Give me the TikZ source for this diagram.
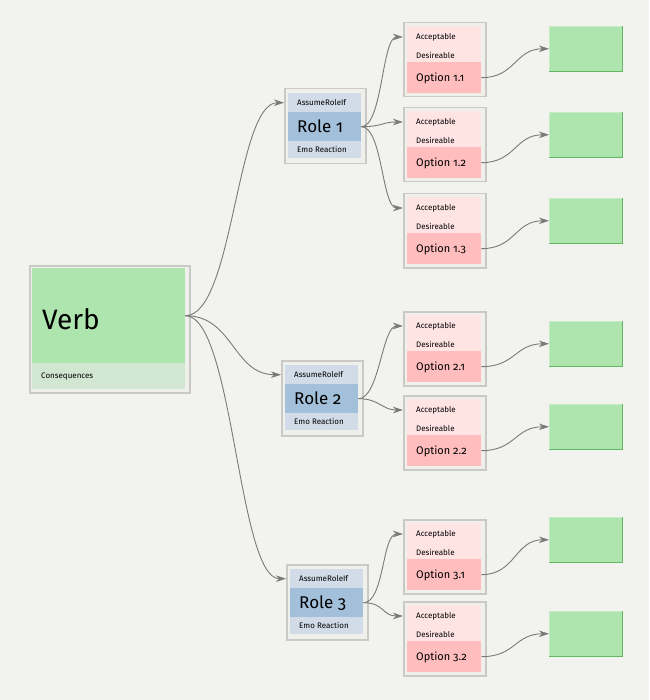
\documentclass[tikz,border=0pt]{standalone}
\usepackage{fontspec}
\setmainfont[Numbers=OldStyle]{Fira Sans}
\usetikzlibrary{arrows.meta}
\definecolor{bgcol}{HTML}{F2F2EE}
\definecolor{framegray}{HTML}{C9C9C5}
\definecolor{framefill}{HTML}{EFEFEB}
\definecolor{verbgreen}{HTML}{AEE4AE}
\definecolor{verbpale}{HTML}{D2E7D2}
\definecolor{rolepale}{HTML}{D1DCE8}
\definecolor{roledark}{HTML}{A3C0DA}
\definecolor{optpale}{HTML}{FFE4E4}
\definecolor{optred}{HTML}{FFBDBD}
\definecolor{boxgreen}{HTML}{AEE4AE}
\definecolor{boxedge}{HTML}{C6EDC6}
\definecolor{boxdark}{HTML}{62B862}
\definecolor{linegray}{HTML}{7A7A78}

\begin{document}
\begin{tikzpicture}[x=1pt,y=-1pt,
    frame/.style={draw=framegray,line width=1.5pt,fill=framefill,inner sep=0pt,
      anchor=north west,minimum width=81pt,minimum height=75pt},
    band/.style={inner sep=0pt,anchor=north west,minimum width=73pt},
    small/.style={anchor=west,inner sep=0pt,font=\fontsize{8}{9}\selectfont},
    target/.style={fill=boxgreen,draw=boxedge,line width=0.6pt,inner sep=0pt,
      anchor=north west,minimum width=73pt,minimum height=45pt},
    link/.style={draw=linegray,line width=0.9pt,
      -{Stealth[length=10pt,width=6.5pt,inset=3pt,fill=linegray]},
      to path={.. controls +(#1,0) and +(-#1,0) .. (\tikztotarget)}}]
    \fill[bgcol] (0,0) rectangle (649,700);

    % verb
    \node[frame,minimum width=160pt,minimum height=127pt] (verb) at (29,265) {};
    \node[band,fill=verbgreen,minimum width=153pt,minimum height=95pt] (verbtop) at (32,268) {};
    \node[band,fill=verbpale,minimum width=153pt,minimum height=26pt] (cons) at (32,363) {};
    \node[anchor=west,inner sep=0pt,font=\fontsize{28}{30}\selectfont] (verbtxt) at ([xshift=10pt,yshift=-3pt]verbtop.west) {Verb};
    \node[small] (constxt) at ([xshift=9pt]cons.west) {Consequences};

    % roles
    \foreach \nm/\rx/\ry/\lab in {r1/284/88/1, r2/281/360/2, r3/286/564/3} {
      \node[frame] (\nm) at (\rx,\ry) {};
      \node[band,fill=rolepale,minimum height=19pt] (\nm a) at (\rx+4,\ry+5) {};
      \node[band,fill=roledark,minimum height=29pt] (\nm b) at (\rx+4,\ry+24) {};
      \node[band,fill=rolepale,minimum height=17pt] (\nm c) at (\rx+4,\ry+53) {};
      \node[small] (\nm at) at ([xshift=9pt]\nm a.west) {AssumeRoleIf};
      \node[anchor=west,inner sep=0pt,font=\fontsize{17}{19}\selectfont] (\nm bt) at ([xshift=9pt]\nm b.west) {Role \lab};
      \node[small] (\nm ct) at ([xshift=9pt]\nm c.west) {Emo Reaction};
      \draw[link=48] (verbtop.east) to (\nm a -| \nm.west);
    }

    % options and outcomes
    \foreach \nm/\rl/\oy/\gy/\lab in {o11/r1/22/26/1.1, o12/r1/107/112/1.2, o13/r1/193/198/1.3,
        o21/r2/311/321/2.1, o22/r2/395/404/2.2, o31/r3/519/517/3.1, o32/r3/601/611/3.2} {
      \node[frame,minimum width=82pt,minimum height=74pt] (\nm) at (403,\oy) {};
      \node[band,fill=optpale,minimum width=74pt,minimum height=36pt] (\nm p) at (407,\oy+4) {};
      \node[band,fill=optred,minimum width=74pt,minimum height=31pt] (\nm r) at (407,\oy+40) {};
      \node[small] (\nm acc) at (416,\oy+15) {Acceptable};
      \node[small] (\nm des) at (416,\oy+33) {Desireable};
      \node[anchor=west,inner sep=0pt,font=\fontsize{11}{13}\selectfont] (\nm rt) at ([xshift=9pt,yshift=-1pt]\nm r.west) {Option \lab};
      \node[target] (\nm g) at (549,\gy) {};
      \draw[boxdark,line width=1.2pt] (\nm g.south west) -- (\nm g.south east) -- (\nm g.north east);
      \draw[link=21] (\rl b.east) to (\nm acc -| \nm.west);
      \draw[link=34] (\nm r.east) to (\nm g.west);
    }
\end{tikzpicture}
\end{document}
